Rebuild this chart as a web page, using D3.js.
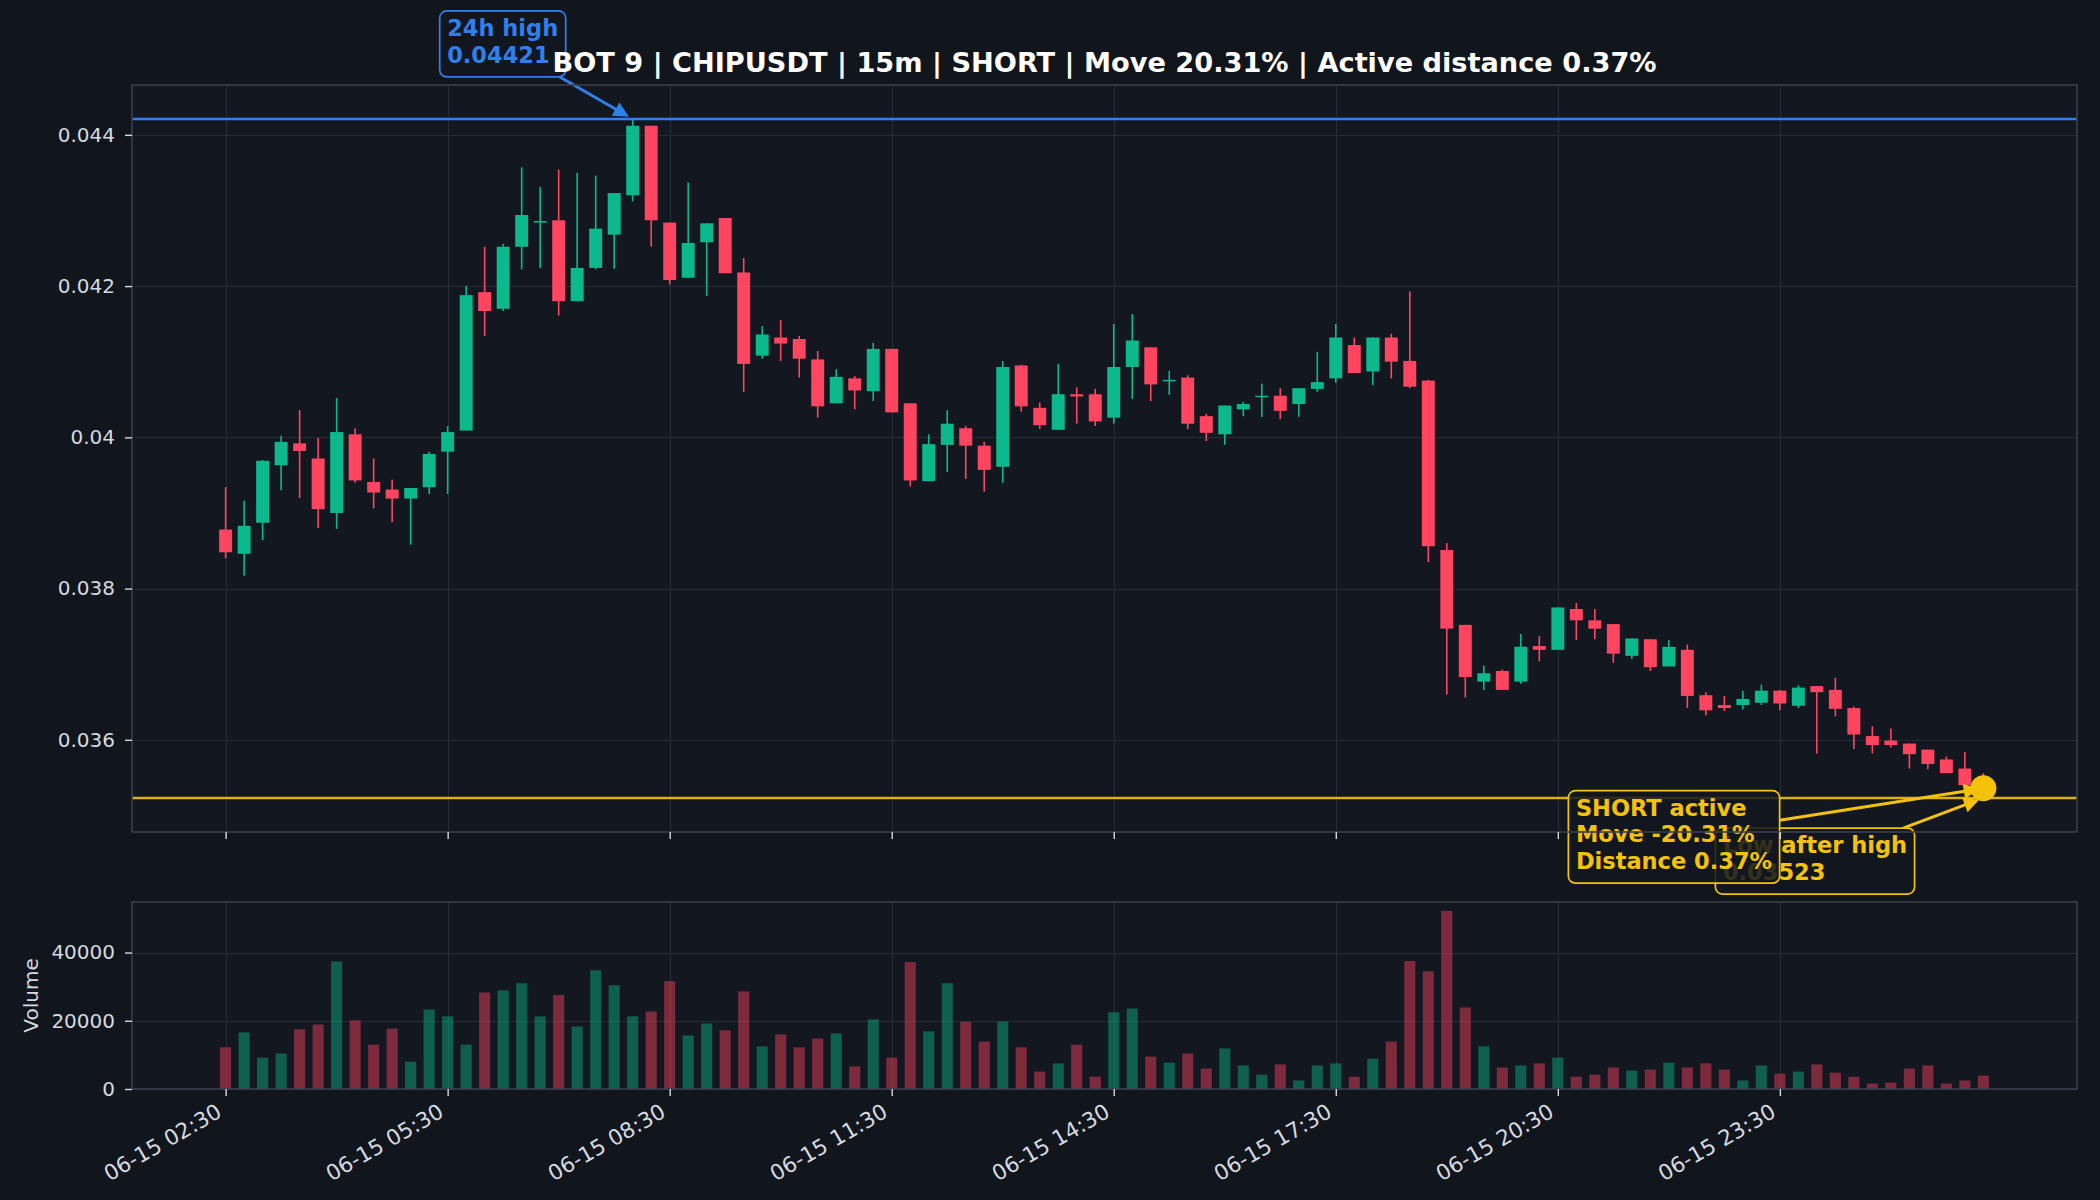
<!DOCTYPE html>
<html>
<head>
<meta charset="utf-8">
<script src="https://cdn.jsdelivr.net/npm/d3@7"></script>
<style>
  html, body { margin: 0; padding: 0; background: #11151c; }
  svg { display: block; }
  text { font-family: "DejaVu Sans", sans-serif; }
</style>
</head>
<body>
<div class="chart"></div>
<script>
// 15m candles, 06-15 02:30 onwards
const startTime = new Date(2024, 5, 15, 2, 30);
const stepMs = 15 * 60 * 1000;

const opens = [
  0.03878, 0.03846, 0.03887, 0.03963, 0.03992, 0.03972, 0.03900, 0.04004, 0.03941, 0.03931, 0.03919, 0.03934,
  0.03981, 0.04009, 0.04192, 0.04170, 0.04252, 0.04284, 0.04287, 0.04180, 0.04224, 0.04268, 0.04320, 0.04412,
  0.04284, 0.04211, 0.04258, 0.04290, 0.04218, 0.04108, 0.04132, 0.04130, 0.04103, 0.04045, 0.04078, 0.04061,
  0.04117, 0.04045, 0.03942, 0.03990, 0.04012, 0.03989, 0.03961, 0.04095, 0.04039, 0.04010, 0.04057, 0.04057,
  0.04026, 0.04093, 0.04119, 0.04074, 0.04079, 0.04028, 0.04004, 0.04037, 0.04053, 0.04055, 0.04044, 0.04064,
  0.04078, 0.04122, 0.04087, 0.04132, 0.04101, 0.04075, 0.03851, 0.03752, 0.03677, 0.03691, 0.03677, 0.03724,
  0.03719, 0.03773, 0.03758, 0.03753, 0.03711, 0.03733, 0.03697, 0.03719, 0.03659, 0.03646, 0.03646, 0.03649,
  0.03665, 0.03645, 0.03671, 0.03666, 0.03642, 0.03605, 0.03599, 0.03595, 0.03587, 0.03574, 0.03562, 0.03540
];
const highs = [
  0.03934, 0.03916, 0.03970, 0.04002, 0.04036, 0.03999, 0.04052, 0.04012, 0.03972, 0.03944, 0.03933, 0.03981,
  0.04015, 0.04200, 0.04252, 0.04256, 0.04357, 0.04331, 0.04354, 0.04350, 0.04346, 0.04323, 0.04421, 0.04412,
  0.04284, 0.04337, 0.04283, 0.04290, 0.04237, 0.04147, 0.04155, 0.04134, 0.04114, 0.04090, 0.04081, 0.04125,
  0.04117, 0.04045, 0.04004, 0.04036, 0.04015, 0.03994, 0.04101, 0.04096, 0.04046, 0.04097, 0.04066, 0.04064,
  0.04150, 0.04163, 0.04119, 0.04088, 0.04082, 0.04031, 0.04042, 0.04047, 0.04071, 0.04065, 0.04065, 0.04113,
  0.04150, 0.04132, 0.04132, 0.04137, 0.04193, 0.04076, 0.03860, 0.03752, 0.03698, 0.03693, 0.03740, 0.03737,
  0.03775, 0.03781, 0.03773, 0.03753, 0.03734, 0.03733, 0.03732, 0.03726, 0.03663, 0.03658, 0.03665, 0.03673,
  0.03666, 0.03672, 0.03671, 0.03682, 0.03644, 0.03618, 0.03615, 0.03595, 0.03587, 0.03578, 0.03584, 0.03556
];
const lows = [
  0.03840, 0.03817, 0.03864, 0.03930, 0.03920, 0.03880, 0.03879, 0.03940, 0.03906, 0.03888, 0.03858, 0.03925,
  0.03925, 0.04009, 0.04134, 0.04167, 0.04222, 0.04224, 0.04161, 0.04180, 0.04222, 0.04223, 0.04312, 0.04252,
  0.04202, 0.04211, 0.04187, 0.04217, 0.04060, 0.04104, 0.04101, 0.04079, 0.04026, 0.04045, 0.04037, 0.04048,
  0.04033, 0.03935, 0.03942, 0.03954, 0.03945, 0.03928, 0.03940, 0.04034, 0.04011, 0.04010, 0.04018, 0.04015,
  0.04018, 0.04051, 0.04048, 0.04056, 0.04011, 0.03995, 0.03990, 0.04028, 0.04027, 0.04024, 0.04027, 0.04060,
  0.04072, 0.04085, 0.04069, 0.04078, 0.04065, 0.03835, 0.03660, 0.03656, 0.03666, 0.03666, 0.03674, 0.03704,
  0.03719, 0.03732, 0.03733, 0.03702, 0.03707, 0.03691, 0.03697, 0.03642, 0.03632, 0.03638, 0.03640, 0.03646,
  0.03639, 0.03642, 0.03582, 0.03631, 0.03588, 0.03582, 0.03590, 0.03562, 0.03561, 0.03556, 0.03540, 0.03523
];
const closes = [
  0.03848, 0.03883, 0.03969, 0.03994, 0.03982, 0.03905, 0.04007, 0.03943, 0.03927, 0.03919, 0.03933, 0.03978,
  0.04007, 0.04188, 0.04167, 0.04252, 0.04294, 0.04286, 0.04180, 0.04224, 0.04276, 0.04323, 0.04412, 0.04287,
  0.04208, 0.04257, 0.04283, 0.04217, 0.04097, 0.04136, 0.04124, 0.04104, 0.04041, 0.04080, 0.04062, 0.04117,
  0.04033, 0.03943, 0.03991, 0.04018, 0.03989, 0.03957, 0.04093, 0.04041, 0.04016, 0.04057, 0.04054, 0.04021,
  0.04093, 0.04128, 0.04070, 0.04076, 0.04018, 0.04006, 0.04042, 0.04044, 0.04055, 0.04035, 0.04065, 0.04073,
  0.04132, 0.04085, 0.04132, 0.04100, 0.04067, 0.03856, 0.03747, 0.03683, 0.03688, 0.03666, 0.03723, 0.03719,
  0.03775, 0.03758, 0.03747, 0.03714, 0.03734, 0.03696, 0.03723, 0.03658, 0.03639, 0.03642, 0.03654, 0.03665,
  0.03648, 0.03669, 0.03663, 0.03641, 0.03607, 0.03593, 0.03593, 0.03581, 0.03568, 0.03556, 0.03540, 0.03536
];
const volumes = [
  12200, 16600, 9200, 10400, 17500, 18900, 37400, 20100, 13000, 17700, 8000, 23300,
  21300, 13000, 28300, 28900, 31000, 21300, 27500, 18300, 34800, 30400, 21300, 22700,
  31600, 15700, 19200, 17200, 28600, 12500, 16000, 12200, 14800, 16300, 6600, 20400,
  9200, 37200, 16900, 31000, 19700, 13900, 19800, 12200, 5100, 7500, 13000, 3600,
  22500, 23600, 9500, 7700, 10400, 6000, 11900, 6900, 4200, 7200, 2500, 6900,
  7500, 3600, 8900, 13900, 37500, 34500, 52200, 23900, 12500, 6300, 6900, 7500,
  9200, 3600, 4200, 6300, 5400, 5700, 7700, 6300, 7500, 5700, 2500, 6900,
  4500, 5100, 7200, 4800, 3600, 1600, 1900, 6000, 6900, 1600, 2500, 3900
];

const priceTicks = [0.036, 0.038, 0.040, 0.042, 0.044];
const volumeTicks = [0, 20000, 40000];
const timeTickIdx = [0, 12, 24, 36, 48, 60, 72, 84];

const highIdx = 22;
const highLevel = 0.04421;
const lowAfterHigh = 0.03523;
const titleText = "BOT 9 | CHIPUSDT | 15m | SHORT | Move 20.31% | Active distance 0.37%";
const highLines = ["24h high", "0.04421"];
const lowLines = ["Low after high", "0.03523"];
const shortLines = ["SHORT active", "Move -20.31%", "Distance 0.37%"];

// ---- layout / style
const W = 2100, H = 1200;
const plotL = 132, plotR = 2077;
const priceT = 85, priceB = 832;
const volT = 902, volB = 1089;

const figBg = "#11151c";
const axBg = "#131720";
const upColor = "#0bb98c";
const downColor = "#ff4560";
const blue = "#2f80ed";
const gold = "#f5c20a";
const gridColor = "#262b36";
const spineColor = "#3a3f4b";
const tickColor = "#d6d9e0";

const times = opens.map((_, i) => new Date(startTime.getTime() + i * stepMs));
const tAt = k => new Date(startTime.getTime() + k * stepMs);

const x = d3.scaleTime()
    .domain([tAt(-5.06), tAt(100.06)])
    .range([plotL, plotR]);
const step = x(tAt(1)) - x(tAt(0));

const lo = d3.min(lows), hi = d3.max(highs);
const yPad = (hi - lo) * 0.05;
const y = d3.scaleLinear()
    .domain([lo - yPad, hi + yPad])
    .range([priceB, priceT]);

const yv = d3.scaleLinear()
    .domain([0, d3.max(volumes) * 1.05])
    .range([volB, volT]);

const svg = d3.select(".chart").append("svg")
    .attr("width", W)
    .attr("height", H);

svg.append("rect").attr("width", W).attr("height", H).attr("fill", figBg);

const defs = svg.append("defs");
defs.append("clipPath").attr("id", "clipPrice")
    .append("rect").attr("x", plotL).attr("y", priceT)
    .attr("width", plotR - plotL).attr("height", priceB - priceT);
defs.append("clipPath").attr("id", "clipVol")
    .append("rect").attr("x", plotL).attr("y", volT)
    .attr("width", plotR - plotL).attr("height", volB - volT);

// panel backgrounds
[[priceT, priceB], [volT, volB]].forEach(([t, b]) => {
    svg.append("rect")
        .attr("x", plotL).attr("y", t)
        .attr("width", plotR - plotL).attr("height", b - t)
        .attr("fill", axBg);
});

// grid
const grid = svg.append("g").attr("stroke", gridColor).attr("stroke-width", 1);
timeTickIdx.forEach(i => {
    const gx = Math.round(x(times[i])) + 0.5;
    grid.append("line").attr("x1", gx).attr("x2", gx).attr("y1", priceT).attr("y2", priceB);
    grid.append("line").attr("x1", gx).attr("x2", gx).attr("y1", volT).attr("y2", volB);
});
priceTicks.forEach(v => {
    const gy = Math.round(y(v)) + 0.5;
    grid.append("line").attr("x1", plotL).attr("x2", plotR).attr("y1", gy).attr("y2", gy);
});
volumeTicks.forEach(v => {
    const gy = Math.round(yv(v)) + 0.5;
    grid.append("line").attr("x1", plotL).attr("x2", plotR).attr("y1", gy).attr("y2", gy);
});

// candles
const candles = opens.map((o, i) => ({
    t: times[i], o: o, h: highs[i], l: lows[i], c: closes[i], v: volumes[i], up: closes[i] >= o
}));

const price = svg.append("g").attr("clip-path", "url(#clipPrice)");

price.append("line")
    .attr("x1", plotL).attr("x2", plotR)
    .attr("y1", y(highLevel)).attr("y2", y(highLevel))
    .attr("stroke", blue).attr("stroke-width", 2.4);
price.append("line")
    .attr("x1", plotL).attr("x2", plotR)
    .attr("y1", y(lowAfterHigh)).attr("y2", y(lowAfterHigh))
    .attr("stroke", gold).attr("stroke-width", 2.4).attr("stroke-opacity", 0.9);

price.selectAll("line.wick")
    .data(candles)
    .enter().append("line")
    .attr("class", "wick")
    .attr("x1", d => x(d.t)).attr("x2", d => x(d.t))
    .attr("y1", d => y(d.h)).attr("y2", d => y(d.l))
    .attr("stroke", d => d.up ? upColor : downColor)
    .attr("stroke-width", 1.6);

const bodyW = step * 0.7;
price.selectAll("rect.body")
    .data(candles)
    .enter().append("rect")
    .attr("class", "body")
    .attr("x", d => x(d.t) - bodyW / 2)
    .attr("width", bodyW)
    .attr("y", d => y(Math.max(d.o, d.c)))
    .attr("height", d => Math.max(1.5, Math.abs(y(d.o) - y(d.c))))
    .attr("fill", d => d.up ? upColor : downColor);

// volume
const volW = step * 0.6;
svg.append("g").attr("clip-path", "url(#clipVol)")
    .selectAll("rect")
    .data(candles)
    .enter().append("rect")
    .attr("x", d => x(d.t) - volW / 2)
    .attr("width", volW)
    .attr("y", d => yv(d.v))
    .attr("height", d => yv(0) - yv(d.v))
    .attr("fill", d => d.up ? upColor : downColor)
    .attr("fill-opacity", 0.45);

// ---- annotations
const annFont = 22.5, lineH = 26.5, pad = 7.5;

function boxExit(cx, cy, tx, ty, bx, by, bw, bh) {
    const dx = tx - cx, dy = ty - cy;
    let t = Infinity;
    if (dx > 0) t = Math.min(t, (bx + bw - cx) / dx);
    if (dx < 0) t = Math.min(t, (bx - cx) / dx);
    if (dy > 0) t = Math.min(t, (by + bh - cy) / dy);
    if (dy < 0) t = Math.min(t, (by - cy) / dy);
    return [cx + t * dx, cy + t * dy];
}

function annotate(lines, tx, ty, offX, offY, color) {
    const g = svg.append("g");
    const bx = tx + offX, by = ty + offY;
    const arrowG = g.append("g");
    const rect = g.append("rect");
    const txt = g.append("text")
        .attr("fill", color)
        .attr("font-size", annFont)
        .attr("font-weight", "bold");
    lines.forEach((s, i) => {
        txt.append("tspan")
            .attr("x", bx + pad)
            .attr("y", by + pad + annFont * 0.78 + i * lineH)
            .text(s);
    });
    const bw = d3.max(txt.selectAll("tspan").nodes(), n => n.getComputedTextLength()) + 2 * pad;
    const bh = lines.length * lineH + 2 * pad - 2;
    rect.attr("x", bx).attr("y", by)
        .attr("width", bw).attr("height", bh)
        .attr("rx", 7).attr("ry", 7)
        .attr("fill", axBg).attr("fill-opacity", 0.86)
        .attr("stroke", color).attr("stroke-width", 1.7);

    // arrow from box centre toward target, clipped at the box edge
    const cx = bx + bw / 2, cy = by + bh / 2;
    const [sx, sy] = boxExit(cx, cy, tx, ty, bx, by, bw, bh);
    const ang = Math.atan2(ty - sy, tx - sx);
    const shrink = 6;
    const ex = tx - shrink * Math.cos(ang), ey = ty - shrink * Math.sin(ang);
    const hl = 13, hw = 6.5;
    const bxh = ex - hl * Math.cos(ang), byh = ey - hl * Math.sin(ang);
    arrowG.append("line")
        .attr("x1", sx).attr("y1", sy)
        .attr("x2", bxh).attr("y2", byh)
        .attr("stroke", color)
        .attr("stroke-width", 3);
    arrowG.append("path")
        .attr("d", `M${ex},${ey}L${bxh + hw * Math.sin(ang)},${byh - hw * Math.cos(ang)}` +
                   `L${bxh - hw * Math.sin(ang)},${byh + hw * Math.cos(ang)}Z`)
        .attr("fill", color)
        .attr("stroke", color)
        .attr("stroke-width", 1.5)
        .attr("stroke-linejoin", "miter");
}

const lastIdx = candles.length - 1;
const lastX = x(times[lastIdx]);
const lastPrice = closes[lastIdx];

annotate(highLines, x(times[highIdx]), y(highLevel), -193, -108, blue);
annotate(lowLines, lastX, y(lowAfterHigh), -268, 30, gold);
annotate(shortLines, lastX, y(lastPrice), -415, 2.5, gold);

svg.append("circle")
    .attr("cx", lastX).attr("cy", y(lastPrice))
    .attr("r", 13)
    .attr("fill", gold);

// ---- spines and axes
[[priceT, priceB], [volT, volB]].forEach(([t, b]) => {
    svg.append("rect")
        .attr("x", plotL).attr("y", t)
        .attr("width", plotR - plotL).attr("height", b - t)
        .attr("fill", "none")
        .attr("stroke", spineColor).attr("stroke-width", 1.6);
});

function styleAxis(g) {
    g.select(".domain").remove();
    g.selectAll(".tick line").attr("stroke", tickColor).attr("stroke-width", 1.4);
    g.selectAll(".tick text")
        .attr("fill", tickColor)
        .attr("font-size", 20)
        .attr("font-family", "DejaVu Sans");
}

svg.append("g")
    .attr("transform", `translate(${plotL},0)`)
    .call(d3.axisLeft(y).tickValues(priceTicks).tickSize(7).tickPadding(10).tickFormat(d3.format("~g")))
    .call(styleAxis);

svg.append("g")
    .attr("transform", `translate(${plotL},0)`)
    .call(d3.axisLeft(yv).tickValues(volumeTicks).tickSize(7).tickPadding(10).tickFormat(d3.format("d")))
    .call(styleAxis);

// x ticks on price panel (no labels)
svg.append("g")
    .attr("transform", `translate(0,${priceB})`)
    .call(d3.axisBottom(x).tickValues(timeTickIdx.map(i => times[i])).tickSize(7).tickFormat(""))
    .call(styleAxis);

// x ticks with rotated labels under volume panel
svg.append("g")
    .attr("transform", `translate(0,${volB})`)
    .call(d3.axisBottom(x).tickValues(timeTickIdx.map(i => times[i])).tickSize(7)
        .tickFormat(d3.timeFormat("%m-%d %H:%M")))
    .call(styleAxis)
    .call(g => g.selectAll(".tick text")
        .attr("x", 0).attr("y", 0).attr("dy", null)
        .attr("font-size", 21.5)
        .attr("text-anchor", "end")
        .attr("transform", "translate(-3,27) rotate(-30)"));

svg.append("text")
    .attr("transform", `translate(38,${(volT + volB) / 2}) rotate(-90)`)
    .attr("text-anchor", "middle")
    .attr("fill", tickColor)
    .attr("font-size", 20)
    .text("Volume");

svg.append("text")
    .attr("x", (plotL + plotR) / 2)
    .attr("y", 71.5)
    .attr("text-anchor", "middle")
    .attr("fill", "#ffffff")
    .attr("font-size", 27.2)
    .attr("font-weight", "bold")
    .text(titleText);
</script>
</body>
</html>
